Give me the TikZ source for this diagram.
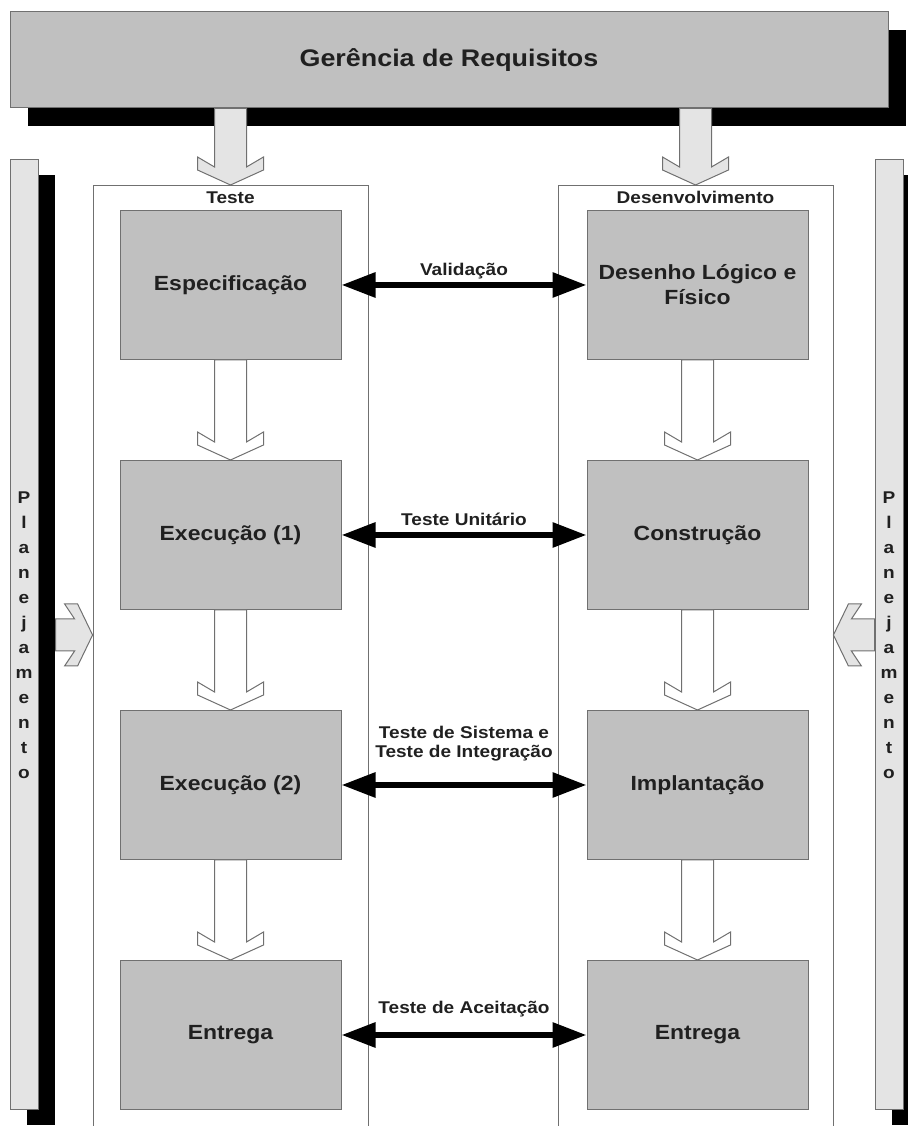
\documentclass[tikz,border=0pt]{standalone}
\usepackage{fontspec}
\setmainfont{Liberation Sans}[FakeStretch=1.12]
\usetikzlibrary{positioning, arrows.meta, calc, shadows}

\definecolor{caixa}{HTML}{C0C0C0}
\definecolor{claro}{HTML}{E4E4E4}
\definecolor{borda}{HTML}{707070}
\definecolor{escrita}{HTML}{202020}

\begin{document}
\begin{tikzpicture}[
    x=1pt, y=1pt,
    % Set global spacing
    node distance=100pt and 245pt,
    % Define box styles
    base/.style={draw=borda, line width=1pt, text=escrita, align=center, inner sep=2pt},
    etapa/.style={base, fill=caixa, minimum width=221pt, minimum height=149pt,
        font=\bfseries\fontsize{20.5}{25}\selectfont},
    topo/.style={base, fill=caixa, minimum width=878pt, minimum height=96pt,
        font=\bfseries\fontsize{24}{28}\selectfont,
        drop shadow={shadow xshift=18pt, shadow yshift=-18pt, fill=black, opacity=1}},
    plano/.style={base, fill=claro, minimum width=28pt, minimum height=950pt, inner sep=0pt,
        font=\bfseries\fontsize{17}{25}\selectfont,
        drop shadow={shadow xshift=17pt, shadow yshift=-15pt, fill=black, opacity=1}},
    grupo/.style={draw=borda, line width=0.8pt, minimum width=275pt, minimum height=960pt, anchor=north},
    rotulo/.style={text=escrita, font=\bfseries\fontsize{17}{19}\selectfont, inner sep=1pt, align=center},
    % Block arrows
    desce/.style={draw=borda, line width=1pt, fill=white, to path={
        let \p1=(\tikztostart), \p2=(\tikztotarget) in
        (\x1-16pt,\y1) -- (\x1-16pt,\y2+18pt) -- (\x1-33pt,\y2+28pt) -- (\x1-33pt,\y2+15pt)
        -- (\x1,\y2) -- (\x1+33pt,\y2+15pt) -- (\x1+33pt,\y2+28pt) -- (\x1+16pt,\y2+18pt)
        -- (\x1+16pt,\y1) -- cycle}},
    lado/.style={draw=borda, line width=1pt, fill=claro, to path={
        let \p1=(\tikztostart), \p2=(\tikztotarget), \n1={sign(\x2-\x1)} in
        (\x1,\y1+16pt) -- (\x2-\n1*18pt,\y1+16pt) -- (\x2-\n1*28pt,\y1+31pt) -- (\x2-\n1*15pt,\y1+31pt)
        -- (\x2,\y1) -- (\x2-\n1*15pt,\y1-31pt) -- (\x2-\n1*28pt,\y1-31pt) -- (\x2-\n1*18pt,\y1-16pt)
        -- (\x1,\y1-16pt) -- cycle}},
    % Arrow style
    >={Triangle[length=34pt, width=24pt]},
    duplo/.style={<->, line width=6pt, draw=black}
]
    \useasboundingbox (0,0) rectangle (907,1126);

    % --- NODES ---
    \node[grupo] (teste) at (230.5,941) {};
    \node[grupo] (desenv) at (695.5,941) {};
    \node[rotulo, anchor=base, yshift=-19pt] (lblTeste) at (teste.north) {Teste};
    \node[rotulo, anchor=base, yshift=-19pt] (lblDesenv) at (desenv.north) {Desenvolvimento};

    \node[topo] (req) at (449,1066) {Gerência de Requisitos};

    \node[plano] (planE) at (24,491) {P\\l\\a\\n\\e\\j\\a\\m\\e\\n\\t\\o};
    \node[plano] (planD) at (889,491) {P\\l\\a\\n\\e\\j\\a\\m\\e\\n\\t\\o};

    % Teste
    \node[etapa, below=25pt of teste.north] (espec) {Especificação};
    \node[etapa, below=of espec] (exec1) {Execução (1)};
    \node[etapa, below=of exec1] (exec2) {Execução (2)};
    \node[etapa, below=of exec2] (entT) {Entrega};

    % Desenvolvimento
    \node[etapa, right=of espec] (desenho) {Desenho Lógico e\\Físico};
    \node[etapa, right=of exec1] (constr) {Construção};
    \node[etapa, right=of exec2] (impl) {Implantação};
    \node[etapa, right=of entT] (entD) {Entrega};

    % --- EDGES ---
    \draw[desce, fill=claro] (req.south -| teste.north) to (teste.north);
    \draw[desce, fill=claro] (req.south -| desenv.north) to (desenv.north);
    \draw[lado] ([xshift=17pt]planE.east) to (teste.west |- planE.east);
    \draw[lado] (planD.west) to (desenv.east |- planD.west);

    \draw[desce] (espec.south) to (exec1.north);
    \draw[desce] (exec1.south) to (exec2.north);
    \draw[desce] (exec2.south) to (entT.north);
    \draw[desce] (desenho.south) to (constr.north);
    \draw[desce] (constr.south) to (impl.north);
    \draw[desce] (impl.south) to (entD.north);

    % Between the two columns
    \draw[duplo] (espec.east) -- node[rotulo, anchor=base, yshift=9pt] (lblVal) {Validação} (desenho.west);
    \draw[duplo] (exec1.east) -- node[rotulo, anchor=base, yshift=9pt] (lblUnit) {Teste Unitário} (constr.west);
    \draw[duplo] (exec2.east) -- node[rotulo, above=20pt] (lblSist) {Teste de Sistema e\\Teste de Integração} (impl.west);
    \draw[duplo] (entT.east) -- node[rotulo, anchor=base, yshift=21pt] (lblAceit) {Teste de Aceitação} (entD.west);

\end{tikzpicture}
\end{document}
